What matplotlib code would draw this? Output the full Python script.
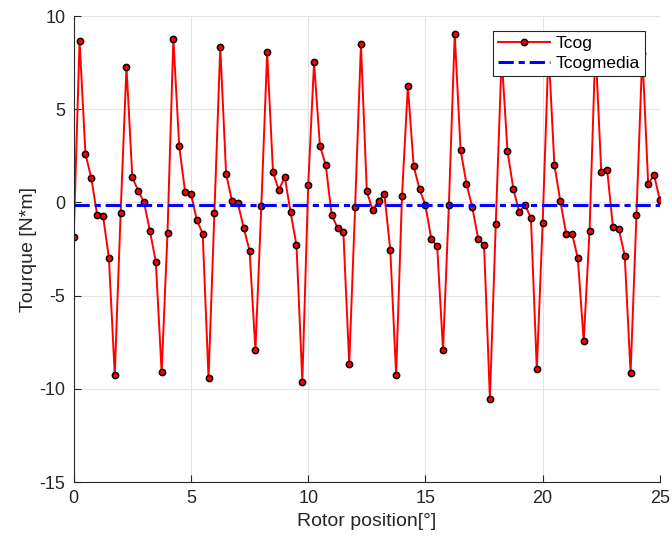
import numpy as np
import matplotlib.pyplot as plt

plt.rcParams['font.family'] = ['Liberation Sans', 'DejaVu Sans']
plt.rcParams['axes.unicode_minus'] = False

# rotor position in degrees, 0.25 deg step
theta = np.arange(0, 25.01, 0.25)

# cogging torque samples [N*m]
tcog = [
    -1.83, 8.67, 2.60, 1.31, -0.68, -0.73, -2.96, -9.25,
    -0.59, 7.29, 1.34, 0.63, 0.00, -1.54, -3.17, -9.12,
    -1.63, 8.76, 3.01, 0.57, 0.47, -0.95, -1.67, -9.43,
    -0.56, 8.33, 1.51, 0.09, -0.04, -1.36, -2.60, -7.92,
    -0.20, 8.05, 1.61, 0.66, 1.38, -0.54, -2.29, -9.61,
    0.91, 7.51, 3.05, 1.99, -0.66, -1.36, -1.61, -8.66,
    -0.27, 8.48, 0.59, -0.41, 0.09, 0.43, -2.54, -9.25,
    0.34, 6.22, 1.94, 0.70, -0.14, -1.97, -2.35, -7.90,
    -0.16, 9.03, 2.80, 1.00, -0.27, -1.95, -2.28, -10.52,
    -1.15, 7.80, 2.76, 0.72, -0.50, -0.14, -0.84, -8.96,
    -1.09, 8.20, 2.01, 0.09, -1.67, -1.67, -2.99, -7.46,
    -1.51, 8.40, 1.63, 1.74, -1.34, -1.43, -2.87, -9.16,
    -0.68, 8.00, 0.99, 1.47, 0.13,
]

# mean cogging torque
tcog_mean = -0.16

fig = plt.figure(figsize=(6.72, 5.43), dpi=100)
ax = fig.add_axes([0.1097, 0.1123, 0.8723, 0.8582])

ax.plot(theta, tcog, color='red', lw=1.4, marker='o', markersize=4.5,
        markerfacecolor='red', markeredgecolor='black', markeredgewidth=1.1,
        label='Tcog')
ax.plot([theta[0], theta[-1]], [tcog_mean, tcog_mean], color='blue', lw=2.2,
        dashes=(5, 1.6, 2, 1.6), label='Tcogmedia')

ax.set_xlim(0, 25)
ax.set_ylim(-15, 10)
ax.set_xticks([0, 5, 10, 15, 20, 25])
ax.set_yticks([-15, -10, -5, 0, 5, 10])
ax.grid(True, color='#e3e3e3', lw=0.8)
ax.set_axisbelow(True)

for s in ['top', 'right']:
    ax.spines[s].set_visible(False)
for s in ['left', 'bottom']:
    ax.spines[s].set_color('#262626')
    ax.spines[s].set_linewidth(0.8)

ax.tick_params(direction='in', length=5, width=0.8, colors='#262626',
               labelsize=13, pad=6)
ax.set_xlabel('Rotor position[°]', fontsize=14, color='#262626', labelpad=4)
ax.set_ylabel('Tourque [N*m]', fontsize=14, color='#262626', labelpad=2)

leg = ax.legend(loc='upper right', bbox_to_anchor=(0.9744, 0.9678),
                fontsize=12.5, fancybox=False, framealpha=1, edgecolor='#262626',
                borderaxespad=0, handlelength=3.0, handletextpad=0.3,
                borderpad=0.3, labelspacing=0.25)
leg.get_frame().set_linewidth(0.8)

fig.savefig('out.png', dpi=100)
